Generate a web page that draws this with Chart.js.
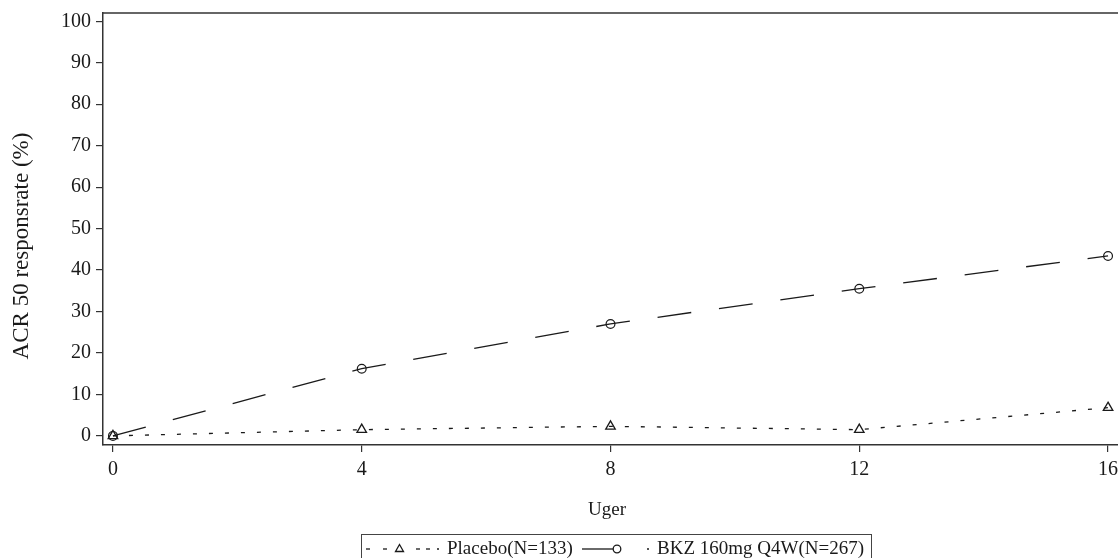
<!DOCTYPE html>
<html>
<head>
<meta charset="utf-8">
<script src="https://cdn.jsdelivr.net/npm/chart.js@4"></script>
<style>
  html, body { margin: 0; padding: 0; background: #fff; overflow: hidden; }
  #wrap { position: relative; width: 1118px; height: 558px; }
</style>
</head>
<body>
<div id="wrap"><canvas id="c" width="1118" height="558"></canvas></div>
<script>
// Weeks of follow-up
const weeks = [0, 4, 8, 12, 16];
// ACR 50 response rate (%) per arm
const placebo = [0, 1.5, 2.3, 1.5, 6.8];
const bkz = [0, 16.2, 27.0, 35.5, 43.4];
// Axis tick labels
const xTicks = [0, 4, 8, 12, 16];
const yTicks = [0, 10, 20, 30, 40, 50, 60, 70, 80, 90, 100];
// Titles and series labels
const xTitle = 'Uger';
const yTitle = 'ACR 50 responsrate (%)';
const placeboLabel = 'Placebo(N=133)';
const bkzLabel = 'BKZ 160mg Q4W(N=267)';

const INK = '#1a1a1a';
const SERIF = '"Liberation Serif", "Times New Roman", serif';

// Top frame line, axis titles and the boxed legend
const framePlugin = {
  id: 'frame',
  afterDraw(chart) {
    const { ctx, chartArea } = chart;
    ctx.save();
    ctx.strokeStyle = '#333';
    ctx.lineWidth = 1.5;
    ctx.beginPath();
    ctx.moveTo(chartArea.left, chartArea.top);
    ctx.lineTo(chart.width, chartArea.top);
    ctx.stroke();

    ctx.fillStyle = INK;
    ctx.textBaseline = 'middle';
    ctx.textAlign = 'center';
    ctx.font = '19px ' + SERIF;
    ctx.fillText(xTitle, 607, 510);

    ctx.save();
    ctx.translate(22, 246);
    ctx.rotate(-Math.PI / 2);
    ctx.font = '23px ' + SERIF;
    ctx.fillText(yTitle, 0, 0);
    ctx.restore();

    // legend box
    const bx = 361.5, by = 534.5, bw = 510, bh = 30;
    ctx.lineWidth = 1;
    ctx.strokeStyle = '#444';
    ctx.strokeRect(bx, by, bw, bh);

    const cy = 548;
    ctx.strokeStyle = INK;
    // placebo sample: short dashes around a triangle
    ctx.lineWidth = 1.3;
    [[366, 370], [383, 387], [416, 420], [426, 430]].forEach(([a, b]) => {
      ctx.beginPath(); ctx.moveTo(a, cy + 1); ctx.lineTo(b, cy + 1); ctx.stroke();
    });
    ctx.beginPath();
    ctx.moveTo(399.5, cy - 3.5); ctx.lineTo(403.5, cy + 3.5); ctx.lineTo(395.5, cy + 3.5); ctx.closePath();
    ctx.stroke();
    ctx.beginPath(); ctx.arc(438, cy + 1, 1, 0, Math.PI * 2); ctx.fill();

    ctx.font = '19px ' + SERIF;
    ctx.textAlign = 'left';
    ctx.fillText(placeboLabel, 447, cy + 1);

    // BKZ sample: solid line with circle
    ctx.beginPath(); ctx.moveTo(582, cy + 1); ctx.lineTo(613, cy + 1); ctx.stroke();
    ctx.beginPath(); ctx.arc(617, cy + 1, 3.8, 0, Math.PI * 2); ctx.stroke();
    ctx.beginPath(); ctx.arc(648, cy + 1, 1, 0, Math.PI * 2); ctx.fill();
    ctx.fillText(bkzLabel, 657, cy + 1);
    ctx.restore();
  }
};

new Chart(document.getElementById('c'), {
  type: 'line',
  data: {
    labels: weeks,
    datasets: [
      {
        label: placeboLabel,
        data: weeks.map((w, i) => ({ x: w, y: placebo[i] })),
        borderColor: INK,
        borderWidth: 1.3,
        borderDash: [4, 12],
        pointStyle: 'triangle',
        pointRadius: 5.5,
        pointBorderWidth: 1.3,
        pointBorderColor: INK,
        pointBackgroundColor: 'rgba(255,255,255,0)',
        tension: 0,
        fill: false,
        clip: false
      },
      {
        label: bkzLabel,
        data: weeks.map((w, i) => ({ x: w, y: bkz[i] })),
        borderColor: INK,
        borderWidth: 1.3,
        borderDash: [34, 28],
        pointStyle: 'circle',
        pointRadius: 4.4,
        pointBorderWidth: 1.2,
        pointBorderColor: INK,
        pointBackgroundColor: 'rgba(255,255,255,0)',
        tension: 0,
        fill: false,
        clip: false
      }
    ]
  },
  options: {
    responsive: false,
    animation: false,
    devicePixelRatio: 1,
    layout: { autoPadding: false, padding: { left: 0, right: 0, top: 13, bottom: 36 } },
    plugins: { legend: { display: false }, tooltip: { enabled: false } },
    scales: {
      x: {
        type: 'linear',
        min: -0.16,
        max: 16.16,
        afterBuildTicks(scale) { scale.ticks = xTicks.map(v => ({ value: v })); },
        afterFit(scale) {
          scale.height = 77;
          scale.paddingLeft = 0;
          scale.paddingRight = 0;
        },
        grid: { drawOnChartArea: false, drawTicks: true, tickLength: 7, color: '#333', lineWidth: 1.2 },
        border: { display: true, color: '#333', width: 1.5 },
        ticks: { color: INK, padding: 6, maxRotation: 0, font: { family: SERIF, size: 20 } },
        title: { display: false }
      },
      y: {
        min: -2.2,
        max: 102,
        afterBuildTicks(scale) { scale.ticks = yTicks.map(v => ({ value: v })); },
        afterFit(scale) {
          scale.width = 103;
          scale.paddingTop = 0;
          scale.paddingBottom = 0;
        },
        grid: { drawOnChartArea: false, drawTicks: true, tickLength: 7, color: '#333', lineWidth: 1.2 },
        border: { display: true, color: '#333', width: 1.5 },
        ticks: { color: INK, padding: 5, font: { family: SERIF, size: 20 } },
        title: { display: false }
      }
    }
  },
  plugins: [framePlugin]
});
</script>
</body>
</html>
